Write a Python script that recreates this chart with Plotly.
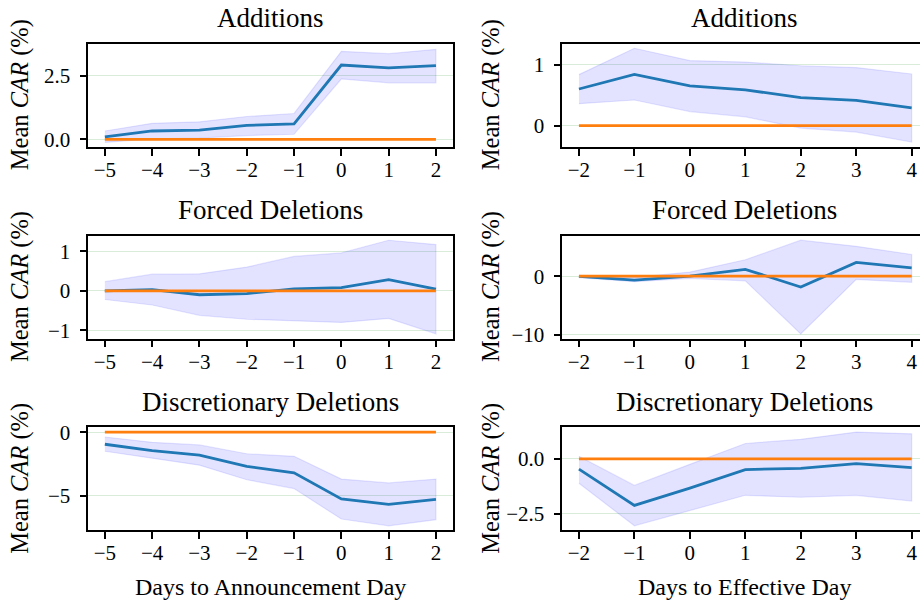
import plotly.graph_objects as go

# ---------------- data ----------------
days_ann = [-5, -4, -3, -2, -1, 0, 1, 2]
days_eff = [-2, -1, 0, 1, 2, 3, 4]

# Announcement-day panels (left column)
add_ann_mean = [0.10, 0.33, 0.36, 0.55, 0.61, 2.93, 2.82, 2.91]
add_ann_hi = [0.33, 0.63, 0.69, 0.90, 1.02, 3.47, 3.38, 3.55]
add_ann_lo = [-0.12, 0.02, 0.05, 0.15, 0.20, 2.38, 2.23, 2.23]

frc_ann_mean = [0.00, 0.03, -0.10, -0.07, 0.05, 0.08, 0.28, 0.04]
frc_ann_hi = [0.23, 0.42, 0.43, 0.60, 0.87, 0.96, 1.28, 1.17]
frc_ann_lo = [-0.22, -0.36, -0.62, -0.72, -0.76, -0.80, -0.70, -1.09]

dis_ann_mean = [-0.95, -1.46, -1.80, -2.70, -3.20, -5.26, -5.70, -5.30]
dis_ann_hi = [-0.38, -0.80, -1.00, -1.70, -1.90, -3.70, -4.00, -3.70]
dis_ann_lo = [-1.50, -2.05, -2.60, -3.75, -4.45, -6.85, -7.39, -6.90]

# Effective-day panels (right column)
add_eff_mean = [0.60, 0.84, 0.65, 0.585, 0.46, 0.415, 0.29]
add_eff_hi = [0.835, 1.266, 1.065, 1.04, 0.98, 0.95, 0.845]
add_eff_lo = [0.36, 0.42, 0.23, 0.145, -0.04, -0.105, -0.268]

frc_eff_mean = [-0.05, -0.67, 0.00, 1.17, -1.85, 2.35, 1.40]
frc_eff_hi = [0.15, -0.20, 0.70, 2.80, 6.15, 5.10, 3.70]
frc_eff_lo = [-0.25, -0.95, -0.40, -0.80, -9.87, -0.55, -1.05]

dis_eff_mean = [-0.47, -2.12, -1.33, -0.49, -0.43, -0.22, -0.40]
dis_eff_hi = [0.12, -1.21, -0.25, 0.70, 0.89, 1.22, 1.14]
dis_eff_lo = [-1.11, -3.05, -2.37, -1.66, -1.75, -1.66, -1.92]

titles = ["Additions", "Additions", "Forced Deletions", "Forced Deletions",
          "Discretionary Deletions", "Discretionary Deletions"]
xlabels = ["Days to Announcement Day", "Days to Effective Day"]
ylabel = "Mean <i>CAR</i> (%)"

x_ticks_ann = [-5, -4, -3, -2, -1, 0, 1, 2]
x_ticks_eff = [-2, -1, 0, 1, 2, 3, 4]
y_ticks = [
    ([0.0, 2.5], ["0.0", "2.5"]),
    ([0, 1], ["0", "1"]),
    ([-1, 0, 1], ["\u22121", "0", "1"]),
    ([-10, 0], ["\u221210", "0"]),
    ([-5, 0], ["\u22125", "0"]),
    ([-2.5, 0.0], ["\u22122.5", "0.0"]),
]

panels = [
    (days_ann, add_ann_mean, add_ann_hi, add_ann_lo),
    (days_eff, add_eff_mean, add_eff_hi, add_eff_lo),
    (days_ann, frc_ann_mean, frc_ann_hi, frc_ann_lo),
    (days_eff, frc_eff_mean, frc_eff_hi, frc_eff_lo),
    (days_ann, dis_ann_mean, dis_ann_hi, dis_ann_lo),
    (days_eff, dis_eff_mean, dis_eff_hi, dis_eff_lo),
]

# ---------------- layout geometry ----------------
W, H = 920, 606
FONT = "Liberation Serif"
col_px = [(88.3, 452.5), (562.3, 920.0)]
col_center_px = [270.4, 744.5]
row_px = [(37.5, 143.3), (234.3, 340.0), (431.0, 536.7)]
x_ranges = [[-5.35, 2.35], [-2.3, 4.15]]
y_ranges = [[-0.292, 3.777], [-0.345, 1.343], [-1.21, 1.40],
            [-10.67, 6.95], [-7.75, 0.385], [-3.26, 1.435]]

fig = go.Figure()
layout = dict(
    width=W, height=H,
    margin=dict(l=0, r=0, t=0, b=0),
    paper_bgcolor="white", plot_bgcolor="white",
    showlegend=False,
    font=dict(family=FONT, color="black", size=21),
)
annotations = []

for i, (xs, mean, hi, lo) in enumerate(panels):
    r, c = divmod(i, 2)
    k = i + 1
    xa = "x" if k == 1 else f"x{k}"
    ya = "y" if k == 1 else f"y{k}"
    # confidence band
    fig.add_trace(go.Scatter(
        x=xs + xs[::-1], y=hi + lo[::-1], xaxis=xa, yaxis=ya,
        fill="toself", fillcolor="rgba(0,0,255,0.11)",
        line=dict(color="rgba(0,0,255,0.10)", width=1.2),
        mode="lines", hoverinfo="skip"))
    fig.add_trace(go.Scatter(
        x=xs, y=mean, xaxis=xa, yaxis=ya, mode="lines",
        line=dict(color="#1f77b4", width=2.8)))
    fig.add_trace(go.Scatter(
        x=xs, y=[0] * len(xs), xaxis=xa, yaxis=ya, mode="lines",
        line=dict(color="#ff7f0e", width=2.8)))

    x0, x1 = col_px[c]
    top, bot = row_px[r]
    xticks = x_ticks_ann if c == 0 else x_ticks_eff
    layout["xaxis" if k == 1 else f"xaxis{k}"] = dict(
        domain=[x0 / W, x1 / W], anchor=ya, range=x_ranges[c],
        tickvals=xticks, ticktext=[str(v).replace("-", "\u2212") for v in xticks],
        ticks="outside", ticklen=7, tickwidth=1.5, tickcolor="black",
        showline=True, linecolor="black", linewidth=1.5,
        mirror=True, showgrid=False, zeroline=False,
        tickfont=dict(size=21, family=FONT), ticklabelstandoff=-4)
    tv, tt = y_ticks[i]
    layout["yaxis" if k == 1 else f"yaxis{k}"] = dict(
        domain=[1 - bot / H, 1 - top / H], anchor=xa, range=y_ranges[i],
        tickvals=tv, ticktext=tt,
        ticks="outside", ticklen=7, tickwidth=1.5, tickcolor="black",
        showline=True, linecolor="black", linewidth=1.5,
        mirror=(c == 0), showgrid=True, gridcolor="rgba(0,128,0,0.15)",
        gridwidth=1, zeroline=False,
        tickfont=dict(size=21, family=FONT), ticklabelstandoff=5)

    # title
    annotations.append(dict(
        text=titles[i], xref="paper", yref="paper",
        x=col_center_px[c] / W, y=1 - (top - 9) / H,
        xanchor="center", yanchor="bottom", showarrow=False,
        font=dict(size=27, family=FONT)))
    # y label
    annotations.append(dict(
        text=ylabel, xref="paper", yref="paper",
        x=(20 if c == 0 else 491) / W, y=1 - ((top + bot) / 2) / H,
        xanchor="center", yanchor="middle", textangle=-90, showarrow=False,
        font=dict(size=24.5, family=FONT)))

for c in range(2):
    annotations.append(dict(
        text=xlabels[c], xref="paper", yref="paper",
        x=col_center_px[c] / W, y=1 - 595 / H,
        xanchor="center", yanchor="middle", showarrow=False,
        font=dict(size=24, family=FONT)))

layout["annotations"] = annotations
fig.update_layout(**layout)
fig.write_html("out.html")
